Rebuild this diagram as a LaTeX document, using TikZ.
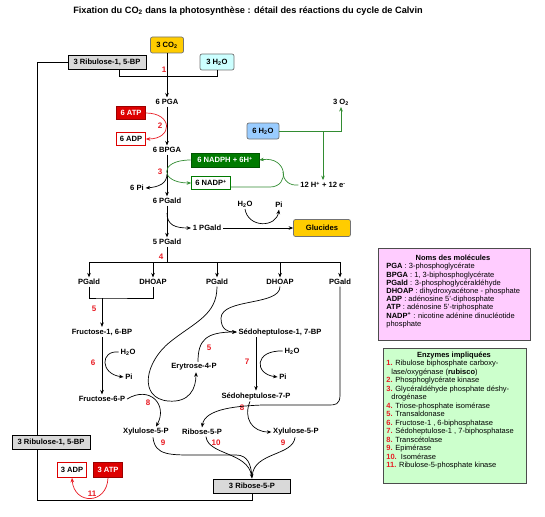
\documentclass[tikz,border=0pt]{standalone}
\usepackage{fontspec}
\setmainfont{Liberation Sans}
\usepackage{xcolor}
\usepackage{tikz}
\usetikzlibrary{arrows.meta,positioning}

\definecolor{gold}{RGB}{255,204,0}
\definecolor{cyanbox}{RGB}{204,255,255}
\definecolor{bluebox}{RGB}{153,204,255}
\definecolor{atpred}{RGB}{221,0,0}
\definecolor{numred}{RGB}{232,28,36}
\definecolor{nadgreen}{RGB}{0,122,0}
\definecolor{linegreen}{RGB}{50,140,50}
\definecolor{greybox}{RGB}{217,217,217}
\definecolor{pinkbg}{RGB}{255,204,255}
\definecolor{greenbg}{RGB}{204,255,204}

\newcommand{\enz}[1]{\textcolor{numred}{\textbf{#1}}}

\begin{document}
\begin{tikzpicture}[x=1pt,y=-1pt,line width=0.7pt,>={Stealth[length=4.5pt,width=3.6pt]},
	lbl/.style={font=\bfseries\fontsize{7.6}{8}\selectfont,inner sep=1.5pt},
	num/.style={font=\bfseries\fontsize{8}{9}\selectfont,text=numred,inner sep=0pt},
	box/.style={lbl,draw,inner sep=0pt,minimum height=13pt},
	grey/.style={box,fill=greybox,line width=0.8pt,minimum width=78pt,minimum height=14pt},
	tint/.style={box,rounded corners=2pt,draw=black!55,minimum height=16pt},
	atpbox/.style={box,fill=atpred,text=white,draw=atpred!70!black,minimum width=29pt},
	adpbox/.style={box,fill=white,draw=atpred,minimum width=29pt},
	legend/.style={draw=black!70,line width=0.8pt,inner sep=0pt,anchor=north west},
	legtext/.style={font=\fontsize{7.5}{8.2}\selectfont,align=left,inner sep=0pt,anchor=north west}]
	\useasboundingbox (0,0) rectangle (545,516);

	\node[lbl,font=\bfseries\fontsize{9.2}{10}\selectfont] (title) at (248,11) {Fixation du CO\textsubscript{2} dans la photosynthèse : détail des réactions du cycle de Calvin};

	\node[tint,fill=gold,minimum width=33pt] (co2) at (167,45) {3 CO\textsubscript{2}};
	\node[grey] (rib_a) at (107,62) {3 Ribulose-1, 5-BP};
	\node[tint,fill=cyanbox,minimum width=34pt] (h2o_a) at (217,62) {3 H\textsubscript{2}O};
	\node[lbl] (pga) at (167,102) {6 PGA};
	\node[atpbox] (atp_a) at (131,113) {6 ATP};
	\node[adpbox] (adp_a) at (131,139) {6 ADP};
	\node[lbl] (bpga) at (167,150) {6 BPGA};
	\node[tint,fill=bluebox,minimum width=32pt] (h2o_b) at (263,131) {6 H\textsubscript{2}O};
	\node[lbl] (o2) at (341,102) {3 O\textsubscript{2}};
	\node[lbl] (elec) at (323,185) {12 H\textsuperscript{+} + 12 e\textsuperscript{-}};
	\node[box,fill=nadgreen,text=white,draw=nadgreen!70!black,minimum width=68pt,minimum height=14pt] (nadph) at (225,160) {6 NADPH + 6H\textsuperscript{+}};
	\node[box,fill=white,draw=nadgreen,minimum width=39pt] (nadp) at (211,183) {6 NADP\textsuperscript{+}};
	\node[lbl] (pi_6) at (137,188) {6 Pi};
	\node[lbl] (pgald_6) at (167,201) {6 PGald};
	\node[lbl] (pgald_1) at (207,228) {1 PGald};
	\node[tint,fill=gold,minimum width=57pt,minimum height=17pt] (glu) at (322,228) {Glucides};
	\node[lbl] (h2o_c) at (245,204) {H\textsubscript{2}O};
	\node[lbl] (pi_c) at (279,205) {Pi};
	\node[lbl] (pgald_5) at (167,242) {5 PGald};
	\coordinate (bus) at (167,262);
	\foreach \n/\x/\t in {1/89/PGald,2/153/DHOAP,3/217/PGald,4/280/DHOAP,5/340/PGald}
		\node[lbl] (t_\n) at (\x,282) {\t};
	\coordinate (j_5) at (102,298);
	\node[lbl] (fbp) at (102,332) {Fructose-1, 6-BP};
	\node[lbl] (f6p) at (102,399) {Fructose-6-P};
	\node[lbl] (h2o_d) at (128,352) {H\textsubscript{2}O};
	\node[lbl] (pi_d) at (129,377) {Pi};
	\node[lbl] (sbp) at (280,332) {Sédoheptulose-1, 7-BP};
	\node[lbl] (s7p) at (256,396) {Sédoheptulose-7-P};
	\node[lbl] (h2o_e) at (292,351) {H\textsubscript{2}O};
	\node[lbl] (pi_e) at (283,377) {Pi};
	\node[lbl] (e4p) at (194,367) {Erytrose-4-P};
	\node[lbl] (xu5p_a) at (146,432) {Xylulose-5-P};
	\node[lbl] (r5p) at (202,432) {Ribose-5-P};
	\node[lbl] (xu5p_b) at (296,432) {Xylulose-5-P};
	\node[grey,minimum width=77pt] (r5p_3) at (252,486) {3 Ribose-5-P};
	\node[adpbox,minimum height=15pt] (adp_b) at (72,470) {3 ADP};
	\node[atpbox,minimum height=15pt] (atp_b) at (108,470) {3 ATP};
	\coordinate (back) at (37,62);
	\coordinate (b_3) at (167,174);
	\coordinate (b_1) at (167,213);

	\node[num] (n_1) at (164,70) {1};
	\node[num] (n_2) at (160,126) {2};
	\node[num] (n_3) at (160,172) {3};
	\node[num] (n_4) at (161,257) {4};
	\node[num] (n_5a) at (94,309) {5};
	\node[num] (n_6) at (93,363) {6};
	\node[num] (n_5b) at (209,348) {5};
	\node[num] (n_7) at (247,362) {7};
	\node[num] (n_8a) at (148,403) {8};
	\node[num] (n_8b) at (242,408) {8};
	\node[num] (n_9a) at (163,443) {9};
	\node[num] (n_10) at (216,443) {10};
	\node[num] (n_9b) at (283,443) {9};
	\node[num] (n_11) at (92,494) {11};

	\path[->]
	(co2) edge (pga)
	(pga) edge (bpga)
	(bpga) edge (pgald_6)
	(pgald_6) edge (pgald_5)
	(pgald_1) edge (glu)
	(j_5) edge (fbp)
	(fbp) edge (f6p)
	;

	\draw ([xshift=12pt]rib_a.south) -- ++(0,7) -| (h2o_a.south);
	\draw (r5p_3.south) -- ++(0,7) -| (back) -- (rib_a.west);
	\node[grey] (rib_b) at (51,442) {3 Ribulose-1, 5-BP};

	\draw[->,numred] (atp_a.east) .. controls (173,113) and (173,139) .. (adp_a.east);
	\draw[->,numred] (atp_b.south) .. controls (107,505) and (74,505) .. (adp_b.south);

	\draw[->,linegreen] (h2o_b.east) -| (o2.south);
	\draw[->,linegreen] (h2o_b.east -| elec.north) -- (elec.north);
	\draw[->,linegreen] (nadph.west) .. controls (158,160) and (160,183) .. (nadp.west);
	\draw[->,linegreen] ([yshift=-4pt]nadp.east) -- (270,187) .. controls (290,187) and (288,156) .. (nadph.east);
	\draw[linegreen] (elec.west) .. controls (290,186) and (283,181) .. (283,172);

	\draw[->] (b_3) .. controls (167,184) and (158,187) .. (pi_6.east);
	\draw[->] (b_1) .. controls (167,225) and (175,228) .. (pgald_1.west);
	\draw[->] (h2o_c.south) .. controls (248,228) and (276,228) .. (pi_c.south);

	\draw (pgald_5) -- (bus);
	\foreach \n in {1,...,5}
		\draw[->] (bus) -| (t_\n);
	\draw (t_1.south) |- (j_5) -| (t_2.south);

	\draw[->] (h2o_d.west) .. controls (100,350) and (100,374) .. (pi_d.west);
	\draw[->] (s7p |- sbp.south) -- (s7p);
	\draw[->] (h2o_e.west) .. controls (254,350) and (254,374) .. (pi_e.west);
	\draw[->] ([xshift=4pt]e4p.north) .. controls (198,340) and (206,332) .. (sbp.west);
	\draw[->] (t_4.south) .. controls (280,306) and (222,298) .. (221,318) .. controls (221,330) and (228,332) .. (sbp.west);
	\draw[->] (t_3.south) .. controls (217,315) and (195,322) .. (170,342) .. controls (145,362) and (138,398) .. (168,401) .. controls (190,403) and (196,388) .. ([xshift=2pt]e4p.south);
	\draw[->] (f6p.east) .. controls (150,385) and (168,405) .. ([xshift=10pt]xu5p_a.north);
	\draw[->] ([xshift=-6pt]s7p.south) .. controls (243,418) and (252,432) .. (xu5p_b.west);
	\draw[->] (t_5.south) -- (340,395) .. controls (340,405) and (335,405) .. (328,405) -- (262,405) .. controls (240,406) and (205,408) .. (r5p.north);
	\draw[->] ([xshift=7pt]xu5p_a.south) .. controls (155,456) and (170,455) .. (200,455) -- (236,455) .. controls (248,455) and (251,465) .. (r5p_3.north);
	\draw[shorten >=3pt] ([xshift=4pt]r5p.south) .. controls (208,455) and (248,452) .. (r5p_3.north);
	\draw[shorten >=3pt] ([xshift=-1pt]xu5p_b.south) .. controls (293,456) and (254,452) .. (r5p_3.north);

	\node[legend,fill=pinkbg,minimum width=152pt,minimum height=92pt] (noms) at (378,248) {};
	\node[lbl,font=\bfseries\fontsize{7.5}{8}\selectfont] (noms_t) at (453,258) {Noms des molécules};
	\node[legtext] (noms_l) at (386,263) {\textbf{PGA} : 3-phosphoglycérate\\
		\textbf{BPGA} : 1, 3-biphosphoglycérate\\
		\textbf{PGald} : 3-phosphoglycéraldéhyde\\
		\textbf{DHOAP} : dihydroxyacétone - phosphate\\
		\textbf{ADP} : adénosine 5'-diphosphate\\
		\textbf{ATP} : adénosine 5'-triphosphate\\
		\textbf{NADP\textsuperscript{+}} : nicotine adénine dinucléotide\\
		phosphate};

	\node[legend,fill=greenbg,minimum width=143pt,minimum height=135pt] (enz) at (383,348) {};
	\node[lbl,font=\bfseries\fontsize{7.5}{8}\selectfont] (enz_t) at (454,356) {Enzymes impliquées};
	\node[legtext,font=\fontsize{7.5}{8.5}\selectfont] (enz_l) at (386,360) {\enz{1.} Ribulose biphosphate carboxy-\\
		\hspace*{5pt}lase/oxygénase (\textbf{rubisco})\\
		\enz{2.} Phosphoglycérate kinase\\
		\enz{3.} Glycéraldéhyde phosphate déshy-\\
		\hspace*{5pt}drogénase\\
		\enz{4.} Triose-phosphate isomérase\\
		\enz{5.} Transaldonase\\
		\enz{6.} Fructose-1 , 6-biphosphatase\\
		\enz{7.} Sédoheptulose-1 , 7-biphosphatase\\
		\enz{8.} Transcétolase\\
		\enz{9.} Epimérase\\
		\enz{10.}\ \ Isomérase\\
		\enz{11.} Ribulose-5-phosphate kinase};
\end{tikzpicture}
\end{document}
